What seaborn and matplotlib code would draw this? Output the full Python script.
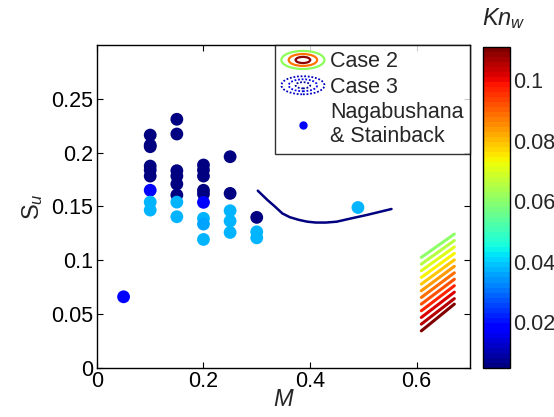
import numpy as np
import pandas as pd
import matplotlib
matplotlib.use("Agg")
import matplotlib.pyplot as plt
import seaborn as sns
from matplotlib.legend_handler import HandlerBase
from matplotlib.patches import Ellipse
from matplotlib.lines import Line2D
from matplotlib.colors import Normalize

# ---------------- data ----------------
# Nagabushana & Stainback experimental points
exp_M = [0.05,
         0.10, 0.10, 0.10, 0.10, 0.10, 0.10, 0.10,
         0.15, 0.15, 0.15, 0.15, 0.15, 0.15,
         0.20, 0.20, 0.20, 0.20, 0.20, 0.20,
         0.25, 0.25, 0.30,
         0.10, 0.10, 0.15, 0.15, 0.20, 0.20, 0.20,
         0.25, 0.25, 0.25, 0.30, 0.30, 0.49]
exp_Su = [0.066,
          0.2163, 0.2070, 0.2055, 0.1875, 0.1838, 0.1782, 0.165,
          0.231, 0.2173, 0.1832, 0.1782, 0.1708, 0.1606,
          0.1885, 0.1838, 0.1782, 0.165, 0.1615, 0.1538,
          0.1962, 0.1621, 0.1398,
          0.154, 0.1466, 0.154, 0.1404, 0.1389, 0.1336, 0.1193,
          0.146, 0.1364, 0.1258, 0.1264, 0.1208, 0.149]
exp_Kn = [0.018,
          0.006, 0.006, 0.006, 0.006, 0.006, 0.006, 0.018,
          0.006, 0.006, 0.006, 0.006, 0.006, 0.006,
          0.006, 0.006, 0.006, 0.006, 0.006, 0.018,
          0.006, 0.006, 0.006,
          0.038, 0.038, 0.038, 0.038, 0.038, 0.036, 0.038,
          0.038, 0.038, 0.038, 0.038, 0.038, 0.038]

# Case 3 curve
case3_M = [0.302, 0.320, 0.335, 0.348, 0.362, 0.379, 0.395, 0.411, 0.430, 0.450, 0.474, 0.508, 0.553]
case3_Su = [0.1646, 0.1560, 0.1495, 0.1435, 0.1400, 0.1375, 0.1358, 0.1350, 0.1350, 0.1358, 0.1385, 0.1422, 0.1476]
case3_Kn = 0.006

# Case 2 short lines
case2_Kn = [0.0610, 0.0655, 0.0700, 0.0745, 0.0790, 0.0835, 0.0880, 0.0925, 0.0970, 0.1015, 0.1060, 0.1100]
case2_M0 = 0.609
case2_M1 = 0.671
case2_Su0 = [0.1026, 0.0964, 0.0902, 0.0840, 0.0778, 0.0716, 0.0654, 0.0592, 0.0530, 0.0468, 0.0406, 0.0343]
case2_Su1 = [0.1243, 0.1183, 0.1123, 0.1063, 0.1003, 0.0943, 0.0883, 0.0823, 0.0763, 0.0703, 0.0643, 0.0592]

kn_min, kn_max = 0.005, 0.111
x_ticks = [0, 0.2, 0.4, 0.6]
x_ticklabels = ["0", "0.2", "0.4", "0.6"]
y_ticks = [0, 0.05, 0.1, 0.15, 0.2, 0.25]
y_ticklabels = ["0", "0.05", "0.1", "0.15", "0.2", "0.25"]
cb_ticks = [0.02, 0.04, 0.06, 0.08, 0.1]
cb_ticklabels = ["0.02", "0.04", "0.06", "0.08", "0.1"]
legend_labels = ["Case 2", "Case 3", "Nagabushana\n& Stainback"]

# ---------------- style ----------------
sns.set_style("white")
plt.rcParams["font.family"] = ["Liberation Sans", "DejaVu Sans"]
plt.rcParams["mathtext.fontset"] = "custom"
plt.rcParams["mathtext.rm"] = "Liberation Sans"
plt.rcParams["mathtext.it"] = "Liberation Sans:italic"

cmap = plt.get_cmap("jet", 64)
norm = Normalize(kn_min, kn_max)

fig = plt.figure(figsize=(5.54, 4.17), dpi=100)
ax = fig.add_axes([0.175, 0.118, 0.673, 0.774])
cax = fig.add_axes([0.872, 0.118, 0.049, 0.770])

# Case 2 lines
rows = []
for i, k in enumerate(case2_Kn):
    rows.append({"id": i, "M": case2_M0, "Su": case2_Su0[i], "Kn": k})
    rows.append({"id": i, "M": case2_M1, "Su": case2_Su1[i], "Kn": k})
df2 = pd.DataFrame(rows)
sns.lineplot(data=df2, x="M", y="Su", hue="Kn", units="id", estimator=None,
             palette=cmap, hue_norm=norm, legend=False, lw=2.2, ax=ax)

# Case 3 curve
df3 = pd.DataFrame({"M": case3_M, "Su": case3_Su})
sns.lineplot(data=df3, x="M", y="Su", sort=False, color=cmap(norm(case3_Kn)),
             lw=1.8, ax=ax)

# experimental points
dfe = pd.DataFrame({"M": exp_M, "Su": exp_Su, "Kn": exp_Kn})
sns.scatterplot(data=dfe, x="M", y="Su", hue="Kn", palette=cmap, hue_norm=norm,
                s=85, edgecolor="none", legend=False, ax=ax, zorder=3)

ax.set_xlim(0, 0.7)
ax.set_ylim(0, 0.3)
ax.set_xticks(x_ticks)
ax.set_xticklabels(x_ticklabels)
ax.set_yticks(y_ticks)
ax.set_yticklabels(y_ticklabels)
ax.tick_params(direction="in", length=4, width=0.8, labelsize=15.5,
               top=True, right=True, bottom=True, left=True, pad=2, colors="black")
ax.tick_params(axis="y", pad=3)
for sp in ax.spines.values():
    sp.set_color("black")
    sp.set_linewidth(1.0)
ax.set_xlabel("$\\mathit{M}$", fontsize=17, labelpad=-2)
ax.set_ylabel("$\\mathregular{S}_{\\mathit{u}}$", fontsize=17, labelpad=4)


# legend with contour-like icons
class HandlerEllipses(HandlerBase):
    def __init__(self, colors, ls, lw):
        super().__init__()
        self.colors = colors
        self.ls = ls
        self.lw = lw

    def create_artists(self, legend, orig_handle, xdescent, ydescent,
                       width, height, fontsize, trans):
        cx = width / 2 - xdescent
        cy = height / 2 - ydescent
        arts = []
        fs = [1.0, 0.66, 0.34]
        for f, c in zip(fs, self.colors):
            e = Ellipse((cx, cy), width * f, height * 1.2 * f, fill=False,
                        edgecolor=c, lw=self.lw, ls=self.ls, transform=trans)
            arts.append(e)
        return arts


h2 = Line2D([], [], color="none")
h3 = Line2D([], [], color="none", ls="-.")
hN = Line2D([], [], marker="o", ls="none", color=(0, 0, 1), markersize=5)
leg = ax.legend([h2, h3, hN], legend_labels,
                handler_map={h2: HandlerEllipses([(0.55, 1, 0.35), (1, 0.45, 0), (0.55, 0, 0)], "-", 1.6),
                             h3: HandlerEllipses([(0, 0, 0.75), (0, 0, 0.9), (0, 0, 0.6)], (0, (1, 1)), 1.3)},
                loc="upper right", bbox_to_anchor=(1.0, 1.0), borderaxespad=0,
                fontsize=15.5, frameon=True, fancybox=False, handlelength=2.0,
                handletextpad=0.25, labelspacing=0.2, borderpad=0.3)
leg.get_frame().set_edgecolor("black")
leg.get_frame().set_linewidth(1.0)

# colorbar
sm = plt.cm.ScalarMappable(cmap=cmap, norm=norm)
cb = fig.colorbar(sm, cax=cax, ticks=cb_ticks)
cb.ax.set_yticklabels(cb_ticklabels)
cb.ax.tick_params(direction="in", length=4, width=0.8, labelsize=15.5,
                  left=True, right=True, pad=2)
cb.outline.set_edgecolor("black")
cb.outline.set_linewidth(1.0)
fig.text(0.91, 0.955, "$\\mathit{Kn}_{\\mathit{w}}$", fontsize=17, ha="center", va="center")

fig.savefig("out.png", dpi=100)
